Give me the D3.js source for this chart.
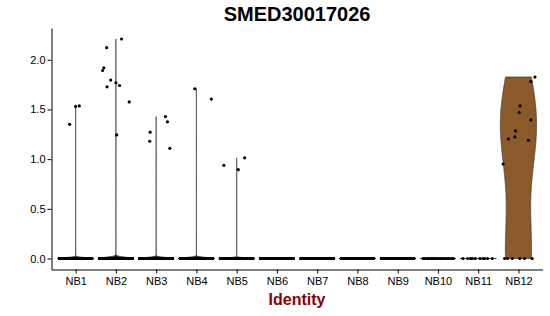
<!DOCTYPE html>
<html>
<head>
<meta charset="utf-8">
<script src="https://cdn.jsdelivr.net/npm/d3@7.9.0/dist/d3.min.js"></script>
<style>
  body { margin: 0; background: #fff; }
  svg { display: block; font-family: "Liberation Sans", Arial, sans-serif; }
  .axis text { font-size: 11px; fill: #000; }
  .axis path, .axis line { stroke: #000; stroke-width: 1; }
</style>
</head>
<body>
<div id="chart"></div>
<script>
const TITLE = "SMED30017026";
const X_TITLE = "Identity";

const identities = ["NB1", "NB2", "NB3", "NB4", "NB5", "NB6", "NB7", "NB8", "NB9", "NB10", "NB11", "NB12"];

// cells with zero expression per identity (estimated, they overlap on the baseline)
const zeroCounts = [4000, 8000, 4000, 3000, 3000, 2000, 2000, 1800, 1200, 22, 10, 6];

// expressing cells
const exprValues = [
  [1.35, 1.53, 1.535],
  [1.892, 1.919, 2.121, 2.209, 1.795, 1.728, 1.768, 1.741, 1.576, 1.244],
  [1.271, 1.18, 1.428, 1.375, 1.109],
  [1.708, 1.604],
  [0.938, 0.894, 1.013],
  [], [], [], [], [], [],
  [1.826, 1.781, 1.536, 1.468, 1.395, 1.284, 1.203, 1.223, 1.19, 0.951]
];

// horizontal jitter of those cells, in category units
const exprJitter = [
  [-0.15, 0, 0.09],
  [-0.33, -0.30, -0.23, 0.14, -0.13, -0.22, 0, 0.09, 0.33, 0.02],
  [-0.15, -0.16, 0.23, 0.28, 0.34],
  [-0.04, 0.37],
  [-0.32, 0.04, 0.2],
  [], [], [], [], [], [],
  [0.41, 0.31, 0.04, 0.02, 0.31, -0.07, -0.25, -0.09, 0.25, -0.38]
];

const fills = ["#222", "#222", "#222", "#222", "#222", "#222",
               "#222", "#222", "#222", "#222", "#222", "#8b5a2b"];

const ADJUST = 1.3;

const width = 550, height = 316;
const margin = {top: 28, right: 7.4, bottom: 46.5, left: 51.5};

const svg = d3.select("#chart").append("svg")
  .attr("width", width)
  .attr("height", height);

const groups = identities.map((id, i) => ({
  id,
  fill: fills[i],
  values: d3.range(zeroCounts[i]).map(() => 0).concat(exprValues[i]),
  jitter: d3.range(zeroCounts[i]).map(k => ((k * 0.6180339887 + i * 0.37) % 1) * 0.8 - 0.4).concat(exprJitter[i])
}));

const allValues = groups.flatMap(g => g.values);
const yMin = d3.min(allValues), yMax = d3.max(allValues);
const pad = (yMax - yMin) * 0.05;

const x = d3.scalePoint()
  .domain(identities)
  .range([margin.left, width - margin.right])
  .padding(0.6);

const y = d3.scaleLinear()
  .domain([yMin - pad, yMax + pad])
  .range([height - margin.bottom, margin.top]);

const step = x.step();

// R's bw.nrd0
function bwNrd0(v) {
  const hi = d3.deviation(v) || 0;
  const iqr = d3.quantile(v, 0.75) - d3.quantile(v, 0.25);
  let lo = Math.min(hi, iqr / 1.34);
  if (!lo) lo = hi || Math.abs(v[0]) || 1;
  return 0.9 * lo * Math.pow(v.length, -0.2);
}

function violinPoints(vals) {
  const v = vals.slice().sort(d3.ascending);
  const lo = v[0], hi = v[v.length - 1];
  if (hi === lo) return [[lo, 1], [hi, 1]];
  const bw = bwNrd0(v) * ADJUST;
  // collapse equal values
  const counts = d3.rollups(v, c => c.length, d => d);
  const grid = d3.range(512).map(k => lo + (hi - lo) * k / 511);
  const dens = grid.map(t => d3.sum(counts, ([val, n]) => {
    const z = (t - val) / bw;
    return n * Math.exp(-0.5 * z * z);
  }));
  const m = d3.max(dens);
  return grid.map((t, k) => [t, dens[k] / m]);
}

const half = step * 0.45;

const violin = svg.append("g");
groups.forEach(g => {
  const pts = violinPoints(g.values);
  const cx = x(g.id);
  const left = pts.map(([t, w]) => [cx - w * half, y(t)]);
  const right = pts.slice().reverse().map(([t, w]) => [cx + w * half, y(t)]);
  violin.append("path")
    .attr("d", d3.line()(left.concat(right)) + "Z")
    .attr("fill", g.fill)
    .attr("stroke", "#333")
    .attr("stroke-width", 0.7);
});

const dots = svg.append("g");
groups.forEach(g => {
  dots.selectAll(null)
    .data(g.values.map((v, k) => ({v, j: g.jitter[k]})))
    .join("circle")
    .attr("cx", d => x(g.id) + d.j * step)
    .attr("cy", d => y(d.v))
    .attr("r", 1.6)
    .attr("fill", "#000");
});

svg.append("g")
  .attr("class", "axis")
  .attr("transform", `translate(${margin.left},0)`)
  .call(d3.axisLeft(y).tickValues([0, 0.5, 1, 1.5, 2]).tickFormat(d3.format(".1f"))
    .tickSize(4).tickSizeOuter(0).tickPadding(2));

svg.append("g")
  .attr("class", "axis")
  .attr("transform", `translate(0,${height - margin.bottom})`)
  .call(d3.axisBottom(x).tickSize(4).tickSizeOuter(0).tickPadding(4));

const midX = (margin.left + width - margin.right) / 2;

svg.append("text")
  .attr("x", midX)
  .attr("y", 21)
  .attr("text-anchor", "middle")
  .attr("font-size", 20)
  .attr("font-weight", "bold")
  .text(TITLE);

svg.append("text")
  .attr("x", midX)
  .attr("y", 304.5)
  .attr("text-anchor", "middle")
  .attr("font-size", 16)
  .attr("font-weight", "bold")
  .attr("fill", "#8b0000")
  .text(X_TITLE);
</script>
</body>
</html>
